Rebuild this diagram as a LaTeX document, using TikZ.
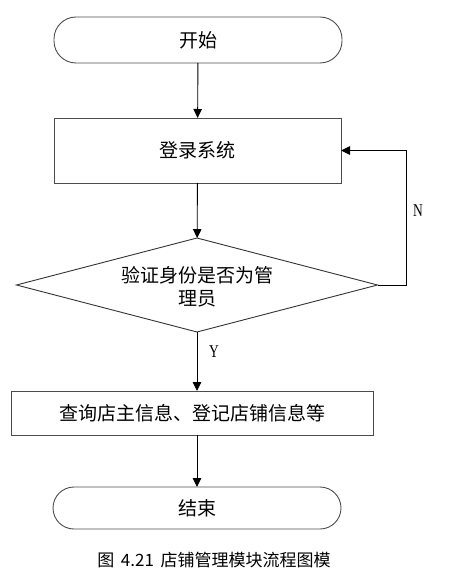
\documentclass[tikz,border=0pt]{standalone}
\usepackage{fontspec}
\usepackage{tikz}
\usetikzlibrary{arrows.meta}
\usetikzlibrary{shapes.geometric}
\newfontfamily\cjk{Noto Sans CJK SC}
\newfontfamily\yn{Liberation Serif}
\tikzstyle{flhead}=[>/.tip={Triangle[length=9pt,width=8.5pt]}]
\tikzstyle{fl} =[line width=.9pt,flhead,->]
\tikzstyle{term}=[draw=black!70,line width=.9pt,rounded corners=22pt,minimum width=288pt,font=\cjk\fontsize{19}{23}\selectfont,outer sep=0pt]
\tikzstyle{proc}=[draw=black!70,line width=.9pt,font=\cjk\fontsize{19}{23}\selectfont,outer sep=0pt]
\tikzstyle{dec}=[draw=black!80,line width=.9pt,diamond,inner sep=0pt,outer sep=0pt]
\tikzstyle{yn}=[font=\yn\fontsize{18}{20}\selectfont,xscale=.75,transform shape]
\begin{document}
\begin{tikzpicture}[x=1pt,y=-1pt]
	\useasboundingbox (0,0) rectangle (469,580);
	\node[term,minimum height=46pt] (S) at (198,40) {开始};
	\node[proc,minimum width=287pt,minimum height=65pt] (L) at (197.5,150.5) {登录系统};
	\node[dec,minimum width=361pt,minimum height=94pt] (D) at (197,285) {};
	\node[font=\cjk\fontsize{19}{23}\selectfont,align=center] (Dt) at (197,287) {验证身份是否为管\\理员};
	\node[proc,minimum width=362pt,minimum height=44pt] (Q) at (192,413) {查询店主信息、登记店铺信息等};
	\node[term,minimum height=42pt,rounded corners=21pt] (E) at (197,508) {结束};
	\node[font=\cjk\fontsize{17}{20}\selectfont] (T) at (214,560) {图 \,4.21 \,店铺管理模块流程图模};
	\draw[fl] (S) -- (L);
	\draw[fl] (L) -- (D);
	\draw[fl] (D.east) -- ++(29,0) |- (L.east);
	\draw[fl] (D) -- (Q.north -| D.south);
	\draw[fl] (Q.south -| E.north) -- (E);
	\node[yn] (N) at (418,211) {N};
	\node[yn] (Y) at (214,352) {Y};
\end{tikzpicture}
\end{document}
